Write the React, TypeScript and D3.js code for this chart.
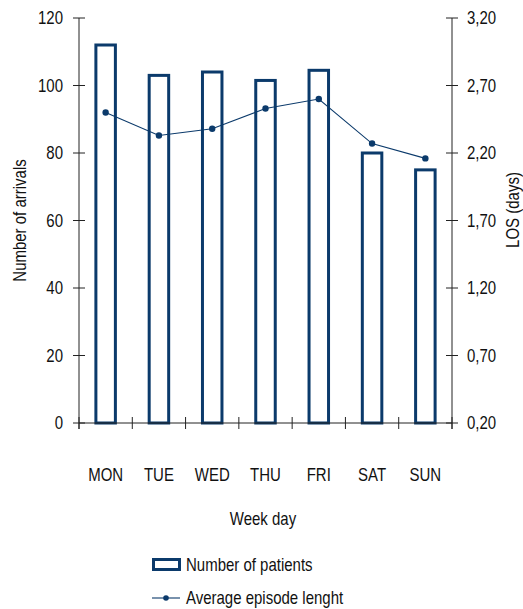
import React from "react";
import * as d3 from "d3";

const days = ["MON", "TUE", "WED", "THU", "FRI", "SAT", "SUN"];
const patients = [112, 103, 104, 101.5, 104.5, 80, 75];
const avgLength = [2.5, 2.33, 2.38, 2.53, 2.6, 2.27, 2.16];
const leftTicks = [0, 20, 40, 60, 80, 100, 120];
const rightTicks = [0.2, 0.7, 1.2, 1.7, 2.2, 2.7, 3.2];

const W = 523;
const H = 609;
const left = 79;
const right = 452;
const top = 18;
const bottom = 423;
const COLOR = "#0b3a6b";
const FONT = "'Liberation Sans', Arial, sans-serif";
const FS = 15;
const SY = 1.2;

type TProps = {
  x: number;
  y: number;
  anchor?: "start" | "middle" | "end";
  rotate?: number;
  children: React.ReactNode;
};

function T({ x, y, anchor = "start", rotate = 0, children }: TProps) {
  return (
    <text
      transform={`translate(${x},${y}) rotate(${rotate}) scale(1,${SY})`}
      dy="0.35em"
      textAnchor={anchor}
      fill="#111"
    >
      {children}
    </text>
  );
}

export default function App() {
  const x = d3.scaleBand<string>().domain(days).range([left, right]).padding(0);
  const yL = d3.scaleLinear().domain([0, 120]).range([bottom, top]);
  const yR = d3.scaleLinear().domain([0.2, 3.2]).range([bottom, top]);
  const fmtR = (v: number) => d3.format(".2f")(v).replace(".", ",");
  const barW = 19.5;
  const cxOf = (i: number) => (x(days[i]) as number) + x.bandwidth() / 2;
  const line = d3
    .line<number>()
    .x((_, i) => cxOf(i))
    .y((d) => yR(d));
  const boundaries = d3.range(days.length + 1).map((i) => left + i * x.bandwidth());

  return (
    <svg
      width={W}
      height={H}
      style={{ position: "absolute", left: 0, top: 0, background: "#fff" }}
      fontFamily={FONT}
      fontSize={FS}
    >
      {patients.map((v, i) => (
        <rect
          key={days[i]}
          x={cxOf(i) - barW / 2}
          y={yL(v)}
          width={barW}
          height={yL(0) - yL(v)}
          fill="#fff"
          stroke={COLOR}
          strokeWidth={3}
        />
      ))}
      <line x1={left} x2={left} y1={top} y2={bottom + 6} stroke="#222" strokeWidth={1} />
      <line x1={right} x2={right} y1={top} y2={bottom + 6} stroke="#222" strokeWidth={1} />
      <line x1={left} x2={right} y1={bottom} y2={bottom} stroke="#222" strokeWidth={1} />
      {boundaries.map((bx, i) => (
        <line key={"xb" + i} x1={bx} x2={bx} y1={bottom - 6} y2={bottom + 6} stroke="#222" strokeWidth={1} />
      ))}
      {leftTicks.map((t) => (
        <g key={"l" + t}>
          <line x1={left - 6} x2={left + 6} y1={yL(t)} y2={yL(t)} stroke="#222" strokeWidth={1} />
          <T x={left - 16} y={yL(t)} anchor="end">
            {t}
          </T>
        </g>
      ))}
      {rightTicks.map((t) => (
        <g key={"r" + t}>
          <line x1={right - 6} x2={right + 6} y1={yR(t)} y2={yR(t)} stroke="#222" strokeWidth={1} />
          <T x={right + 15} y={yR(t)}>
            {fmtR(t)}
          </T>
        </g>
      ))}
      {days.map((d, i) => (
        <T key={"xl" + d} x={cxOf(i)} y={475} anchor="middle">
          {d}
        </T>
      ))}
      <path d={line(avgLength) as string} fill="none" stroke={COLOR} strokeWidth={1.1} />
      {avgLength.map((v, i) => (
        <circle key={"c" + i} cx={cxOf(i)} cy={yR(v)} r={3.2} fill={COLOR} />
      ))}
      <T x={263} y={519} anchor="middle">
        Week day
      </T>
      <T x={19.5} y={220.5} anchor="middle" rotate={-90}>
        Number of arrivals
      </T>
      <T x={512.5} y={210} anchor="middle" rotate={-90}>
        LOS (days)
      </T>
      <rect x={153.5} y={559.5} width={26} height={10} fill="#fff" stroke={COLOR} strokeWidth={3} />
      <T x={186} y={565}>
        Number of patients
      </T>
      <line x1={152} x2={180} y1={598} y2={598} stroke={COLOR} strokeWidth={1.1} />
      <circle cx={166} cy={598} r={2.8} fill={COLOR} />
      <T x={186} y={598}>
        Average episode lenght
      </T>
    </svg>
  );
}
